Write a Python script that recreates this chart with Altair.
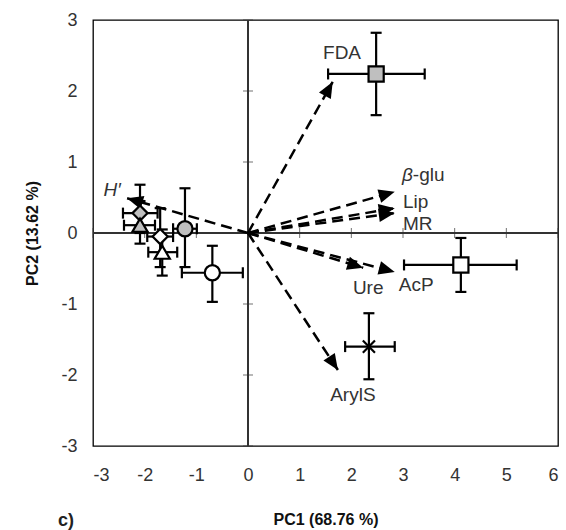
import altair as alt
import pandas as pd
import numpy as np

# ---------------- data ----------------
# sample-group centroids (PC scores) with error bars
groups = ["G1", "G2", "G3", "G4", "G5", "G6", "G7", "G8", "G9"]
pc1 = [2.48, 4.12, 2.34, -0.69, -1.22, -2.09, -2.09, -1.70, -1.66]
pc2 = [2.24, -0.45, -1.60, -0.56, 0.06, 0.28, 0.11, -0.05, -0.27]
pc1_lo = [1.55, 3.02, 1.88, -1.28, -1.45, -2.42, -2.40, -1.95, -1.93]
pc1_hi = [3.42, 5.20, 2.84, -0.10, -0.99, -1.75, -1.80, -1.45, -1.37]
pc2_lo = [1.66, -0.83, -2.06, -0.97, -0.48, 0.00, -0.15, -0.48, -0.60]
pc2_hi = [2.82, -0.07, -1.13, -0.18, 0.63, 0.68, 0.45, 0.35, 0.05]
shapes = ["square", "square", "M-0.8,-0.8L0.8,0.8M-0.8,0.8L0.8,-0.8", "circle", "circle",
          "diamond", "triangle-up", "diamond", "triangle-up"]
fills = ["#bfbfbf", "white", "transparent", "white", "#bfbfbf",
         "#bfbfbf", "#bfbfbf", "white", "white"]

# variable loadings (arrows)
variables = ["FDA", "β-glu", "Lip", "MR", "Ure", "AcP", "ArylS", "H′"]
load1 = [1.64, 2.84, 2.84, 2.84, 2.23, 2.84, 1.74, -2.34]
load2 = [2.13, 0.58, 0.35, 0.28, -0.49, -0.55, -1.93, 0.49]

# arrow labels
label_text = ["FDA", "-glu", "Lip", "MR", "Ure", "AcP", "ArylS", "H′", "β"]
label_x = [1.82, 3.19, 3.00, 3.00, 2.03, 2.92, 2.03, -2.63, 3.19]
label_y = [2.54, 0.82, 0.44, 0.13, -0.77, -0.73, -2.28, 0.61, 0.82]
label_style = ["center", "left", "left", "left", "left", "left", "center",
               "italic_center", "italic_right"]

x_ticks = [-3, -2, -1, 0, 1, 2, 3, 4, 5, 6]
y_ticks = [-3, -2, -1, 0, 1, 2, 3]

# ---------------- layout ----------------
W, H = 465, 426
XDOM, YDOM = [-3, 6], [-3, 3]
ux = W / (XDOM[1] - XDOM[0])
uy = H / (YDOM[1] - YDOM[0])
FONT = "Liberation Sans"
LABEL_SIZE = 19

xs = alt.Scale(domain=XDOM, nice=False, zero=False)
ys = alt.Scale(domain=YDOM, nice=False, zero=False)
xax = alt.Axis(values=x_ticks, title="PC1 (68.76 %)", labelExpr="toString(datum.value)")
yax = alt.Axis(values=y_ticks, title="PC2 (13.62 %)", labelExpr="toString(datum.value)")

grp = pd.DataFrame({"g": groups, "pc1": pc1, "pc2": pc2, "lo1": pc1_lo,
                    "hi1": pc1_hi, "lo2": pc2_lo, "hi2": pc2_hi})

arr = pd.DataFrame({"v": variables, "px": load1, "py": load2})
arr["o"] = 0.0
ang = np.degrees(np.arctan2(arr["px"] * ux, arr["py"] * uy)) % 360
arr["ang"] = ang
back = 8.0  # half length of arrowhead (px)
arr["hx"] = arr["px"] - back * np.sin(np.radians(ang)) / ux
arr["hy"] = arr["py"] - back * np.cos(np.radians(ang)) / uy

caps_v = pd.concat([
    pd.DataFrame({"x": pc1_lo, "y": pc2}),
    pd.DataFrame({"x": pc1_hi, "y": pc2}),
])
caps_h = pd.concat([
    pd.DataFrame({"x": pc1, "y": pc2_lo}),
    pd.DataFrame({"x": pc1, "y": pc2_hi}),
])

lab = pd.DataFrame({"t": label_text, "x": label_x, "y": label_y, "s": label_style})

# ---------------- layers ----------------
zero_v = alt.Chart(grp).mark_rule(color="#333", strokeWidth=1).encode(
    x=alt.X(datum=0, scale=xs, axis=xax))
zero_h = alt.Chart(grp).mark_rule(color="#333", strokeWidth=1).encode(
    y=alt.Y(datum=0, scale=ys, axis=yax))

tick_x = alt.Chart(pd.DataFrame({"v": x_ticks})).mark_tick(
    orient="vertical", size=10, thickness=1, color="#333").encode(
    x=alt.X("v:Q", scale=xs, axis=xax), y=alt.Y(datum=0, scale=ys, axis=yax))
tick_y = alt.Chart(pd.DataFrame({"v": y_ticks})).mark_tick(
    orient="horizontal", size=10, thickness=1, color="#333").encode(
    y=alt.Y("v:Q", scale=ys, axis=yax), x=alt.X(datum=0, scale=xs, axis=xax))

arrows = alt.Chart(arr).mark_rule(
    color="black", strokeWidth=2.5, strokeDash=[11, 6]).encode(
    x=alt.X("o:Q", scale=xs, axis=xax), y=alt.Y("o:Q", scale=ys, axis=yax),
    x2="px:Q", y2="py:Q")
heads = alt.Chart(arr).mark_point(
    shape="M0,-1L0.85,1L-0.85,1Z", filled=True, size=256, color="black",
    opacity=1).encode(
    x=alt.X("hx:Q", scale=xs, axis=xax), y=alt.Y("hy:Q", scale=ys, axis=yax),
    angle=alt.Angle("ang:Q", scale=None))

err_x = alt.Chart(grp).mark_rule(color="black", strokeWidth=2.2).encode(
    x=alt.X("lo1:Q", scale=xs, axis=xax), x2="hi1:Q",
    y=alt.Y("pc2:Q", scale=ys, axis=yax))
err_y = alt.Chart(grp).mark_rule(color="black", strokeWidth=2.2).encode(
    y=alt.Y("lo2:Q", scale=ys, axis=yax), y2="hi2:Q",
    x=alt.X("pc1:Q", scale=xs, axis=xax))
cap_v = alt.Chart(caps_v).mark_tick(
    orient="vertical", size=11, thickness=2.2, color="black", opacity=1).encode(
    x=alt.X("x:Q", scale=xs, axis=xax), y=alt.Y("y:Q", scale=ys, axis=yax))
cap_h = alt.Chart(caps_h).mark_tick(
    orient="horizontal", size=11, thickness=2.2, color="black", opacity=1).encode(
    x=alt.X("x:Q", scale=xs, axis=xax), y=alt.Y("y:Q", scale=ys, axis=yax))

markers = alt.Chart(grp).mark_point(
    filled=True, size=230, stroke="black", strokeWidth=2.2, opacity=1,
    fillOpacity=1, strokeOpacity=1).encode(
    x=alt.X("pc1:Q", scale=xs, axis=xax), y=alt.Y("pc2:Q", scale=ys, axis=yax),
    shape=alt.Shape("g:N", scale=alt.Scale(domain=groups, range=shapes), legend=None),
    fill=alt.Fill("g:N", scale=alt.Scale(domain=groups, range=fills), legend=None))


def text_layer(style, align, italic=False):
    return alt.Chart(lab).transform_filter(alt.datum.s == style).mark_text(
        font=FONT, fontSize=LABEL_SIZE, color="#333", align=align,
        fontStyle="italic" if italic else "normal").encode(
        x=alt.X("x:Q", scale=xs, axis=xax), y=alt.Y("y:Q", scale=ys, axis=yax),
        text="t:N")


t_center = text_layer("center", "center")
t_left = text_layer("left", "left")
t_ic = text_layer("italic_center", "center", True)
t_ir = text_layer("italic_right", "right", True)

panel_tag = alt.Chart(pd.DataFrame({"t": ["c)"]})).mark_text(
    font=FONT, fontSize=18, fontWeight="bold", color="#222", align="left").encode(
    x=alt.value(-35), y=alt.value(501), text="t:N")

chart = alt.layer(
    zero_v, zero_h, tick_x, tick_y, arrows, heads, err_x, err_y, cap_v, cap_h,
    markers, t_center, t_left, t_ic, t_ir, panel_tag
).properties(
    width=W, height=H,
    autosize=alt.AutoSizeParams(type="none"),
    padding={"left": 93, "top": 20, "right": 8, "bottom": 84},
    background="white",
).configure_view(
    stroke="black", strokeWidth=1.3
).configure_axis(
    grid=False, domain=False, ticks=False,
    labelFont=FONT, labelFontSize=18, labelColor="#333",
    titleFont=FONT, titleFontSize=16, titleFontWeight="bold", titleColor="#111",
).configure_axisX(
    labelPadding=20, titlePadding=27,
).configure_axisY(
    labelPadding=16, titlePadding=20,
)

chart.save("out.html", embed_options={"renderer": "svg", "actions": False})
